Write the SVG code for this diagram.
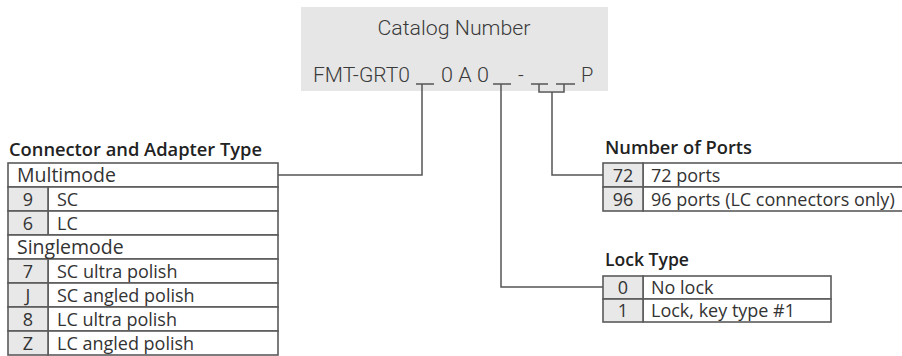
<svg xmlns="http://www.w3.org/2000/svg" width="902" height="356" viewBox="0 0 902 356">
<style>
.cat{font-family:"Roboto","Liberation Sans",sans-serif;font-weight:300;font-size:20px;fill:#3a3a3a}
.ttl{font-family:"Open Sans","Liberation Sans",sans-serif;font-weight:600;font-size:18px;fill:#222}
.t{font-family:"Open Sans","Liberation Sans",sans-serif;font-size:18px;fill:#333}
.h{font-family:"Open Sans","Liberation Sans",sans-serif;font-size:19.5px;fill:#333}
.n{font-family:"Open Sans","Liberation Sans",sans-serif;font-size:18px;fill:#333;text-anchor:middle}
.ln{fill:none;stroke:#555;stroke-width:1.5}
.cell{fill:#fff;stroke:#5a5a5a;stroke-width:1.6}
.num{fill:#e8e8e8;stroke:#5a5a5a;stroke-width:1.6}
</style>
<rect width="902" height="356" fill="#fff"/>
<g id="catalog">
<rect x="301" y="7" width="307" height="84" fill="#e6e6e6"/>
<text class="cat" x="454" y="35" text-anchor="middle" textLength="153" lengthAdjust="spacingAndGlyphs">Catalog Number</text>
<text class="cat" x="313" y="82" textLength="97" lengthAdjust="spacingAndGlyphs">FMT-GRT0</text>
<text class="cat" x="441" y="82" textLength="48" lengthAdjust="spacingAndGlyphs">0 A 0</text>
<text class="cat" x="518" y="82">-</text>
<text class="cat" x="581" y="82">P</text>
<g class="ln">
<path d="M416 84H434M493 84H511M531 84H548M556 84H575"/>
</g>
</g>
<g id="connectors" class="ln">
<path d="M422 84V175H278"/>
<path d="M501 84V287H603"/>
<path d="M539 84V92H564V84M552 92V175H603"/>
</g>
<g id="connector-type">
<text class="ttl" x="9" y="156" textLength="253" lengthAdjust="spacingAndGlyphs">Connector and Adapter Type</text>
<rect class="cell" x="8" y="163" width="270" height="24"/>
<rect class="cell" x="48" y="187" width="230" height="24"/>
<rect class="num" x="8" y="187" width="40" height="24"/>
<rect class="cell" x="48" y="211" width="230" height="24"/>
<rect class="num" x="8" y="211" width="40" height="24"/>
<rect class="cell" x="8" y="235" width="270" height="24"/>
<rect class="cell" x="48" y="259" width="230" height="24"/>
<rect class="num" x="8" y="259" width="40" height="24"/>
<rect class="cell" x="48" y="283" width="230" height="24"/>
<rect class="num" x="8" y="283" width="40" height="24"/>
<rect class="cell" x="48" y="307" width="230" height="24"/>
<rect class="num" x="8" y="307" width="40" height="24"/>
<rect class="cell" x="48" y="331" width="230" height="24"/>
<rect class="num" x="8" y="331" width="40" height="24"/>
<text class="h" x="17" y="182">Multimode</text>
<text class="n" x="28" y="206">9</text><text class="t" x="57" y="206">SC</text>
<text class="n" x="28" y="230">6</text><text class="t" x="57" y="230">LC</text>
<text class="h" x="17" y="254">Singlemode</text>
<text class="n" x="28" y="278">7</text><text class="t" x="57" y="278">SC ultra polish</text>
<text class="n" x="28" y="302">J</text><text class="t" x="57" y="302">SC angled polish</text>
<text class="n" x="28" y="326">8</text><text class="t" x="57" y="326">LC ultra polish</text>
<text class="n" x="28" y="350">Z</text><text class="t" x="57" y="350">LC angled polish</text>
</g>
<g id="number-of-ports">
<text class="ttl" x="605" y="154" textLength="147" lengthAdjust="spacingAndGlyphs">Number of Ports</text>
<rect class="cell" x="643" y="163" width="262" height="24"/>
<rect class="num" x="603" y="163" width="40" height="24"/>
<rect class="cell" x="643" y="187" width="262" height="24"/>
<rect class="num" x="603" y="187" width="40" height="24"/>
<text class="n" x="623" y="182">72</text><text class="t" x="651" y="182">72 ports</text>
<text class="n" x="623" y="206">96</text><text class="t" x="651" y="206">96 ports (LC connectors only)</text>
</g>
<g id="lock-type">
<text class="ttl" x="605" y="266" textLength="84" lengthAdjust="spacingAndGlyphs">Lock Type</text>
<rect class="cell" x="643" y="276" width="188" height="23"/>
<rect class="num" x="603" y="276" width="40" height="23"/>
<rect class="cell" x="643" y="299" width="188" height="23"/>
<rect class="num" x="603" y="299" width="40" height="23"/>
<text class="n" x="623" y="294">0</text><text class="t" x="651" y="294">No lock</text>
<text class="n" x="623" y="317">1</text><text class="t" x="651" y="317">Lock, key type #1</text>
</g>
</svg>
